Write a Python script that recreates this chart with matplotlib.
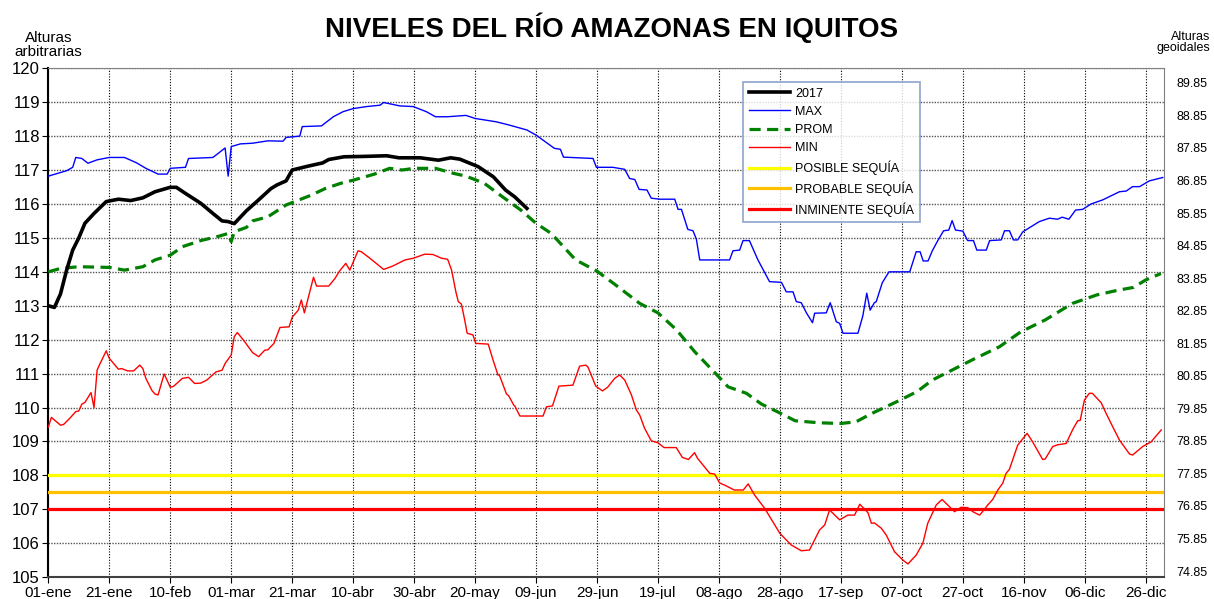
import matplotlib
matplotlib.use("Agg")
import matplotlib.pyplot as plt

plt.rcParams['font.family'] = ['Liberation Sans', 'DejaVu Sans']

# ---- data (day of year, level) ----
tick_days = [0, 20, 40, 60, 80, 100, 120, 140, 160, 180, 200, 220, 240, 260, 280, 300, 320, 340, 360]
tick_labels = ['01-ene', '21-ene', '10-feb', '01-mar', '21-mar', '10-abr', '30-abr', '20-may', '09-jun',
               '29-jun', '19-jul', '08-ago', '28-ago', '17-sep', '07-oct', '27-oct', '16-nov', '06-dic', '26-dic']

y2017_days = [0, 2, 4, 6, 8, 10, 12, 15, 19, 23, 27, 31, 35, 40, 42, 45, 50, 54, 57, 59, 61, 65, 69, 73,
              75, 78, 80, 85, 90, 92, 97, 103, 111, 115, 122, 128, 132, 135, 141, 146, 150, 153, 157]
y2017_vals = [113.0, 112.95, 113.35, 114.05, 114.64, 115.0, 115.43, 115.72, 116.07, 116.14, 116.1, 116.18,
              116.36, 116.49, 116.49, 116.31, 116.02, 115.72, 115.5, 115.48, 115.42, 115.8, 116.12, 116.45,
              116.56, 116.68, 117.0, 117.11, 117.21, 117.31, 117.39, 117.4, 117.42, 117.36, 117.36, 117.29,
              117.36, 117.32, 117.1, 116.8, 116.41, 116.21, 115.87]

max_days = [0, 3, 6, 8, 9, 11, 13, 16, 20, 25, 29, 32, 36, 39, 40, 45, 46, 54, 56, 58, 59, 60, 63, 67, 72,
            77, 78, 82.5, 83.3, 89.6, 93.5, 96.7, 100, 104.4, 108.8, 110, 115.3, 119.7, 124, 127, 131, 137,
            140, 147, 151, 157, 160, 164.5, 166, 168, 169, 174, 178.7, 179.8, 185.2, 189.1, 190.7, 192.4,
            193.8, 196.4, 197.8, 200.6, 205.5, 206.6, 207.7, 209.8, 211.5, 212.6, 213.7, 223.5, 224.6, 226.8,
            227.9, 230, 232.8, 236.6, 240.5, 242.1, 244.3, 245.4, 247, 248.7, 250.7, 251.4, 255.2, 256.5,
            258.5, 259.6, 260.7, 265.6, 267.2, 268.5, 269.6, 271, 271.6, 273.6, 275.8, 282.6, 284.7, 286,
            287, 288.6, 290, 291.8, 293.7, 295.4, 296.5, 297.6, 300, 301.6, 303.5, 304.6, 307.7, 308.8,
            312.6, 313.7, 315.3, 316.6, 318, 319.7, 322.4, 325.1, 328.4, 331.1, 332.6, 334.8, 337, 339.3,
            342.1, 345.9, 351.4, 353.6, 355.7, 358, 361.2, 363.4, 365.6]
max_vals = [116.82, 116.9, 116.98, 117.08, 117.37, 117.34, 117.2, 117.3, 117.37, 117.37, 117.21, 117.05,
            116.88, 116.88, 117.05, 117.08, 117.34, 117.37, 117.51, 117.65, 116.82, 117.69, 117.77, 117.79,
            117.86, 117.85, 117.96, 118.0, 118.28, 118.3, 118.57, 118.72, 118.81, 118.87, 118.91, 118.99,
            118.89, 118.87, 118.72, 118.57, 118.57, 118.61, 118.52, 118.42, 118.33, 118.18, 118.03, 117.74,
            117.64, 117.61, 117.38, 117.36, 117.34, 117.08, 117.08, 117.02, 116.75, 116.72, 116.43, 116.41,
            116.17, 116.14, 116.14, 115.84, 115.84, 115.25, 115.21, 114.96, 114.35, 114.35, 114.62, 114.64,
            114.92, 114.92, 114.35, 113.71, 113.69, 113.41, 113.41, 113.12, 113.09, 112.79, 112.5, 112.78,
            112.79, 113.09, 112.53, 112.48, 112.19, 112.19, 112.7, 113.37, 112.87, 113.09, 113.12, 113.68,
            114.0, 114.0, 114.59, 114.59, 114.32, 114.32, 114.62, 114.92, 115.21, 115.23, 115.51, 115.23,
            115.2, 114.92, 114.92, 114.64, 114.64, 114.92, 114.94, 115.21, 115.21, 114.94, 114.94, 115.18,
            115.33, 115.48, 115.58, 115.55, 115.61, 115.55, 115.82, 115.84, 116.0, 116.12, 116.36, 116.38,
            116.51, 116.51, 116.68, 116.73, 116.78]

prom_days = [0, 4, 10, 20, 25, 31, 35, 40, 44, 50, 56, 59, 60, 61, 65, 67, 72, 78, 86, 91, 96, 100, 107,
             112, 116, 120, 127, 133, 137, 143, 149, 155, 160, 165, 169, 173, 180, 186, 194, 200, 205, 207,
             212, 220, 223, 229, 234, 240, 245, 253, 260, 265, 270, 279, 285, 290, 303, 312, 319, 327, 336,
             344, 351, 356, 360, 365]
prom_vals = [114.0, 114.1, 114.15, 114.13, 114.05, 114.15, 114.35, 114.49, 114.74, 114.92, 115.05, 115.13,
             114.89, 115.18, 115.31, 115.5, 115.62, 115.97, 116.25, 116.46, 116.61, 116.7, 116.88, 117.05,
             117.0, 117.05, 117.05, 116.9, 116.82, 116.61, 116.21, 115.82, 115.43, 115.13, 114.74, 114.35,
             114.02, 113.62, 113.07, 112.79, 112.38, 112.19, 111.65, 110.9, 110.61, 110.42, 110.1, 109.84,
             109.61, 109.55, 109.53, 109.58, 109.82, 110.2, 110.47, 110.81, 111.4, 111.79, 112.23, 112.58,
             113.07, 113.32, 113.46, 113.54, 113.76, 113.95]

min_days = [0, 1, 4, 5, 7, 9, 10, 11, 12, 14, 15, 16, 17, 19, 20, 23, 24, 26, 28, 30, 31, 32, 34, 35, 36,
            38, 40, 41, 44, 46, 48, 50, 52, 55, 57, 58, 60, 61, 62, 64, 67, 69, 71, 72, 74, 76, 79, 80, 82,
            83, 84, 87, 88, 92, 94, 95.6, 97.6, 98.9, 101.6, 102.7, 105.5, 110, 113, 117, 119.7, 123.5, 126.2,
            129, 131, 132.3, 133.7, 134.5, 135.5, 136.6, 137.4, 139.3, 140.2, 144.3, 145.9, 147.5, 148, 150.3,
            151, 152.7, 153, 154.7, 162.3, 163.4, 165.4, 167.5, 172.1, 174.3, 176.3, 177, 179.6, 181.8,
            183.5, 185.8, 187.4, 189.1, 191.3, 192.9, 194, 195.6, 197.8, 200, 202, 206, 208, 210, 212, 213,
            217, 218.6, 220.2, 222.4, 225, 228, 229.6, 231.7, 235, 240, 243.7, 247, 249.7, 253, 254.7, 256.3,
            259.6, 262.3, 264.5, 266.2, 268.9, 270, 271, 273.3, 274.9, 277.6, 280.4, 282, 284.7, 286.9,
            288.5, 291.3, 293.2, 295.6, 297.3, 299.4, 301.6, 303.3, 305.5, 306, 308.2, 309.8, 311.5, 313.1,
            314.2, 315.3, 318, 321.1, 322.9, 326.2, 327, 329.5, 331, 333.9, 336.1, 337.7, 338.5, 339.9,
            341.5, 342.5, 345.4, 347, 349.2, 351.4, 354.7, 355.7, 359, 361.8, 365.1]
min_vals = [109.42, 109.71, 109.48, 109.5, 109.68, 109.88, 109.9, 110.1, 110.15, 110.44, 110.0, 111.1,
            111.3, 111.67, 111.45, 111.13, 111.15, 111.08, 111.08, 111.25, 111.15, 110.86, 110.5, 110.4,
            110.37, 110.99, 110.6, 110.62, 110.86, 110.89, 110.71, 110.72, 110.81, 111.05, 111.1, 111.3,
            111.55, 112.09, 112.21, 111.99, 111.62, 111.5, 111.69, 111.7, 111.89, 112.36, 112.38, 112.66,
            112.87, 113.17, 112.79, 113.84, 113.58, 113.58, 113.8, 114.03, 114.25, 114.05, 114.62, 114.59,
            114.4, 114.07, 114.17, 114.35, 114.4, 114.52, 114.51, 114.4, 114.37, 114.05, 113.41, 113.12,
            113.05, 112.58, 112.19, 112.14, 111.89, 111.87, 111.4, 110.96, 110.95, 110.4, 110.35, 110.07,
            110.05, 109.75, 109.75, 110.02, 110.05, 110.63, 110.66, 111.22, 111.25, 111.2, 110.63, 110.49,
            110.6, 110.86, 110.96, 110.81, 110.37, 109.93, 109.78, 109.39, 109.02, 108.96, 108.82, 108.82,
            108.53, 108.47, 108.67, 108.5, 108.06, 108.04, 107.78, 107.69, 107.57, 107.57, 107.75, 107.42,
            107.03, 106.29, 105.95, 105.78, 105.8, 106.39, 106.54, 106.98, 106.69, 106.83, 106.83, 107.15,
            106.9, 106.59, 106.6, 106.44, 106.24, 105.75, 105.5, 105.39, 105.65, 106.0, 106.59, 107.13,
            107.29, 107.08, 106.93, 107.06, 107.05, 106.93, 106.83, 106.88, 107.13, 107.29, 107.57, 107.77,
            108.06, 108.18, 108.89, 109.24, 108.99, 108.47, 108.48, 108.85, 108.9, 108.94, 109.36, 109.61,
            109.62, 110.22, 110.42, 110.42, 110.14, 109.83, 109.43, 109.04, 108.63, 108.6, 108.85, 108.99,
            109.34]

thresholds = [108.0, 107.5, 107.0]
threshold_names = ['POSIBLE SEQUÍA', 'PROBABLE SEQUÍA', 'INMINENTE SEQUÍA']
threshold_colors = ['#ffff00', '#ffc000', '#ff0000']

right_ticks = [74.85 + i for i in range(16)]

# ---- figure ----
fig = plt.figure(figsize=(12.14, 5.99), dpi=100)
ax = fig.add_axes([0.0398, 0.0364, 0.9190, 0.8497])
ax.set_xlim(0, 366)
ax.set_ylim(105, 120)

ax.yaxis.grid(True, color='#555555', linestyle=(0, (1, 1)), linewidth=1.0)
ax.xaxis.grid(True, color='black', linestyle=(0, (1, 1.5)), linewidth=0.8)
ax.set_axisbelow(True)

# series (order = legend order)
ax.plot(y2017_days, y2017_vals, color='black', lw=2.6, label='2017', zorder=6)
ax.plot(max_days, max_vals, color='#0000ff', lw=1.0, label='MAX', zorder=5)
ax.plot(prom_days, prom_vals, color='#008000', lw=2.3, ls=(0, (3.5, 2)), label='PROM', zorder=5)
ax.plot(min_days, min_vals, color='#ff0000', lw=1.0, label='MIN', zorder=5)
for val, name, col in zip(thresholds, threshold_names, threshold_colors):
    ax.axhline(val, color=col, lw=2.3, label=name, zorder=3)

ax.set_xticks(tick_days)
ax.set_xticklabels(tick_labels, fontsize=11)
ax.set_yticks(range(105, 121))
ax.tick_params(axis='y', labelsize=12, length=4, pad=2)
ax.tick_params(axis='x', length=4, pad=2)

for side in ['top', 'right']:
    ax.spines[side].set_color('#808080')
ax.spines['left'].set_linewidth(1.5)
ax.spines['bottom'].set_color('#404040')
ax.spines['bottom'].set_linewidth(1.5)

ax2 = ax.twinx()
ax2.set_ylim(74.66, 90.30)
ax2.set_yticks(right_ticks)
ax2.set_yticklabels(['%.2f' % v for v in right_ticks], fontsize=9)
ax2.tick_params(axis='y', length=0, pad=9)
for s in ax2.spines.values():
    s.set_visible(False)

leg = ax.legend(loc='upper left', bbox_to_anchor=(0.623, 0.973), fontsize=9, frameon=True,
                fancybox=False, handlelength=3.3, labelspacing=0.5, borderpad=0.45,
                handletextpad=0.4, borderaxespad=0)
leg.get_frame().set_edgecolor('#6f8fbf')
leg.get_frame().set_linewidth(1.2)

fig.text(0.504, 0.953, 'NIVELES DEL RÍO AMAZONAS EN IQUITOS', fontsize=20, fontweight='bold',
         ha='center', va='center')
fig.text(0.040, 0.925, 'Alturas\narbitrarias', fontsize=11, ha='center', va='center', linespacing=1.0)
fig.text(0.9967, 0.929, 'Alturas\ngeoidales', fontsize=9, ha='right', va='center',
         multialignment='right', linespacing=0.95)

fig.savefig('out.png', dpi=100)
